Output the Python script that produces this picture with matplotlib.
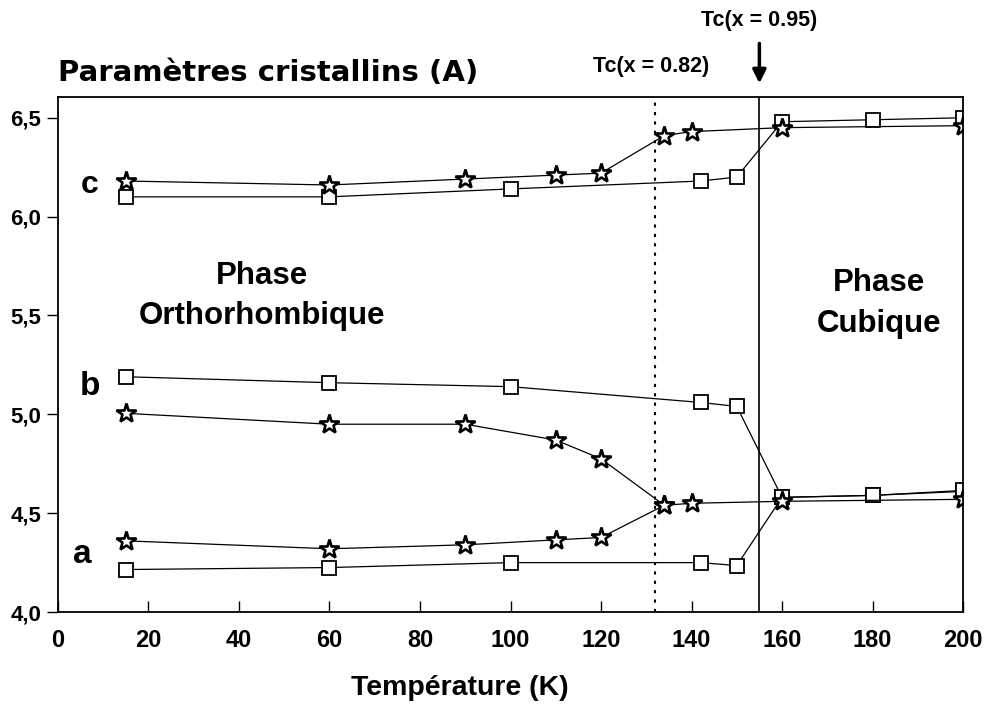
import matplotlib
matplotlib.use("Agg")
import matplotlib.pyplot as plt

# temperatures (K)
t_sq = [15, 60, 100, 142, 150, 160, 180, 200]
t_st = [15, 60, 90, 110, 120, 134, 140, 160, 200]
t_st_b = [15, 60, 90, 110, 120, 134]

# x = 0.95 (squares)
c_sq = [6.10, 6.10, 6.14, 6.18, 6.20, 6.48, 6.49, 6.50]
b_sq = [5.19, 5.16, 5.14, 5.06, 5.04, 4.58, 4.59, 4.61]
a_sq = [4.215, 4.225, 4.25, 4.25, 4.235, 4.58, 4.59, 4.615]

# x = 0.82 (stars)
c_st = [6.18, 6.16, 6.19, 6.21, 6.22, 6.41, 6.43, 6.45, 6.46]
b_st = [5.005, 4.95, 4.95, 4.87, 4.775, 4.54]
a_st = [4.36, 4.32, 4.34, 4.365, 4.377, 4.54, 4.55, 4.56, 4.57]

tc_082 = 132
tc_095 = 155

x_ticks = [0, 20, 40, 60, 80, 100, 120, 140, 160, 180, 200]
y_ticks = [4.0, 4.5, 5.0, 5.5, 6.0, 6.5]
y_labels = ["4,0", "4,5", "5,0", "5,5", "6,0", "6,5"]

plt.rcParams["font.family"] = ["Liberation Sans", "DejaVu Sans"]
plt.rcParams["font.weight"] = "bold"

fig = plt.figure(figsize=(9.93, 7.06), dpi=100)
ax = fig.add_axes([0.0584, 0.1331, 0.9114, 0.7295])

sq = dict(color="black", lw=0.9, marker="s", markersize=10,
          markerfacecolor="white", markeredgecolor="black", markeredgewidth=1.3)
st = dict(color="black", lw=0.9, marker="*", markersize=15,
          markerfacecolor="white", markeredgecolor="black", markeredgewidth=1.9)

ax.plot(t_sq, c_sq, **sq)
ax.plot(t_sq, b_sq, **sq)
ax.plot(t_sq, a_sq, **sq)
ax.plot(t_st, c_st, **st)
ax.plot(t_st_b, b_st, **st)
ax.plot(t_st, a_st, **st)

ax.axvline(tc_082, color="black", lw=1.5, ls=(0, (1.5, 3)))
ax.axvline(tc_095, color="black", lw=1.2)

ax.set_xlim(0, 200)
ax.set_ylim(4.0, 6.605)
ax.set_xticks(x_ticks)
ax.set_yticks(y_ticks)
ax.set_yticklabels(y_labels)
ax.tick_params(axis="x", direction="in", length=8, width=1, labelsize=17, pad=12)
ax.tick_params(axis="y", direction="out", length=8, width=1, labelsize=16, pad=4)
for lab in ax.get_xticklabels() + ax.get_yticklabels():
    lab.set_fontweight("bold")
for s in ax.spines.values():
    s.set_linewidth(1.3)

fig.text(0.463, 0.015, "Température (K)", fontsize=20.5, fontweight="bold",
         ha="center", va="baseline")
fig.text(0.0584, 0.897, "Paramètres cristallins (A)", fontsize=21, fontweight="bold",
         family=["DejaVu Sans"], ha="left", va="center")

ax.text(7, 6.16, "c", fontsize=23, ha="center", va="center")
ax.text(7, 5.14, "b", fontsize=24, ha="center", va="center")
ax.text(5.3, 4.29, "a", fontsize=24, ha="center", va="center")

ax.text(45, 5.6, "Phase\nOrthorhombique", fontsize=22.5, ha="center", va="center",
        linespacing=1.45)
ax.text(181.5, 5.56, "Phase\nCubique", fontsize=22.5, ha="center", va="center",
        linespacing=1.45)

ax.annotate("", xy=(tc_095, 6.66), xytext=(tc_095, 6.89),
            xycoords="data", annotation_clip=False,
            arrowprops=dict(arrowstyle="-|>", color="black", lw=2.5,
                            mutation_scale=20))
ax.text(tc_095, 6.99, "Tc(x = 0.95)", fontsize=15.5, ha="center", va="center",
        clip_on=False)
ax.text(tc_082 - 1, 6.76, "Tc(x = 0.82)", fontsize=15.5, ha="center", va="center",
        clip_on=False)

fig.savefig("out.png", dpi=100)
